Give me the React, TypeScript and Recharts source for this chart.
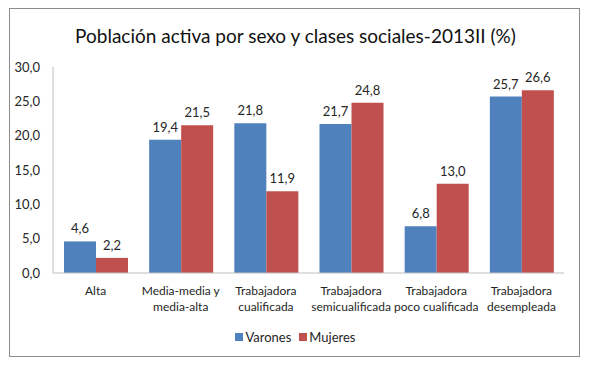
import { BarChart, Bar, XAxis, YAxis, LabelList } from 'recharts';

const categories = [
  'Alta|',
  'Media-media y|media-alta',
  'Trabajadora|cualificada',
  'Trabajadora|semicualificada',
  'Trabajadora|poco cualificada',
  'Trabajadora|desempleada',
];
const varones = [4.6, 19.4, 21.8, 21.7, 6.8, 25.7];
const mujeres = [2.2, 21.5, 11.9, 24.8, 13.0, 26.6];
const yTicks = [0, 5, 10, 15, 20, 25, 30];

const data = categories.map((c, i) => ({ name: c, Varones: varones[i], Mujeres: mujeres[i] }));

const FONT = 'Lato, "Open Sans", sans-serif';
const fmt = (v: number) => v.toFixed(1).replace('.', ',');

function CategoryTick({ x, y, payload }: any) {
  const lines = String(payload.value).split('|').filter(Boolean);
  return (
    <text x={x} y={y} textAnchor="middle" fontFamily={FONT} fontSize={12} fill="#262626">
      {lines.map((l, i) => (
        <tspan key={i} x={x} dy={i === 0 ? 14 : 16}>{l}</tspan>
      ))}
    </text>
  );
}

const legendItems = [
  { name: 'Varones', color: '#4f81bd' },
  { name: 'Mujeres', color: '#c0504d' },
];

export default function App() {
  return (
    <div style={{ position: 'absolute', left: 0, top: 0, width: 591, height: 369, background: '#fff' }}>
      <div style={{ position: 'absolute', left: 9, top: 8, width: 569, height: 347, border: '1px solid #8c8c8c' }} />
      <div style={{ position: 'absolute', left: 0, top: 24, width: 591, textAlign: 'center', fontFamily: FONT, fontSize: 19, color: '#111' }}>
        Población activa por sexo y clases sociales-2013II (%)
      </div>
      <div style={{ position: 'absolute', left: 0, top: 0 }}>
        <BarChart
          width={591}
          height={369}
          data={data}
          margin={{ top: 67, right: 27, left: 0, bottom: 46 }}
          barCategoryGap={11}
          barGap={0}
        >
          <XAxis
            dataKey="name"
            tick={<CategoryTick />}
            tickLine={false}
            axisLine={{ stroke: '#bfbfbf' }}
            interval={0}
            height={50}
          />
          <YAxis
            domain={[0, 30]}
            ticks={yTicks}
            tickFormatter={fmt}
            tick={{ fontFamily: FONT, fontSize: 13, fill: '#262626' }}
            tickLine={false}
            axisLine={{ stroke: '#bfbfbf' }}
            width={53}
            tickMargin={7}
          />
          <Bar dataKey="Varones" fill="#4f81bd" isAnimationActive={false}>
            <LabelList dataKey="Varones" position="top" offset={8} formatter={(v: any) => fmt(Number(v))} style={{ fontFamily: FONT, fontSize: 13, fill: '#262626' }} />
          </Bar>
          <Bar dataKey="Mujeres" fill="#c0504d" isAnimationActive={false}>
            <LabelList dataKey="Mujeres" position="top" offset={8} formatter={(v: any) => fmt(Number(v))} style={{ fontFamily: FONT, fontSize: 13, fill: '#262626' }} />
          </Bar>
        </BarChart>
      </div>
      <div style={{ position: 'absolute', left: 0, top: 329, width: 591, display: 'flex', justifyContent: 'center', gap: 8, fontFamily: FONT, fontSize: 13, color: '#262626' }}>
        {legendItems.map((it) => (
          <span key={it.name} style={{ display: 'flex', alignItems: 'center' }}>
            <span style={{ display: 'inline-block', width: 8, height: 8, background: it.color, marginRight: 2 }} />
            {it.name}
          </span>
        ))}
      </div>
    </div>
  );
}
